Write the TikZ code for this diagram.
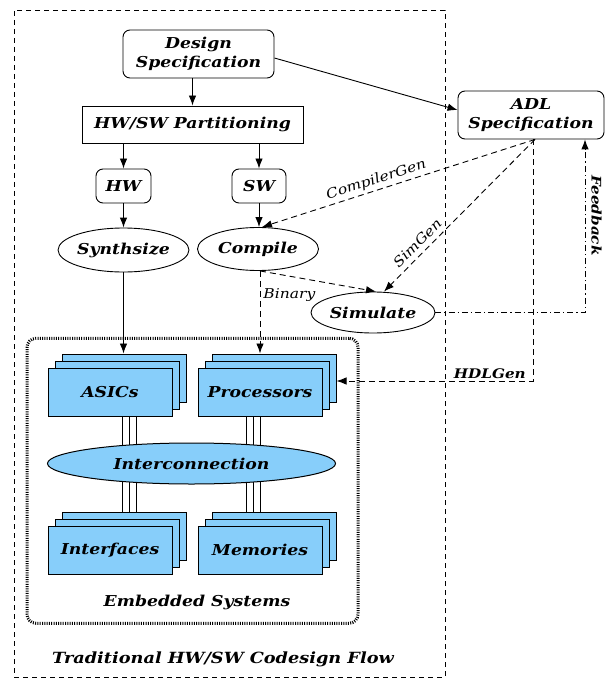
\documentclass[tikz,border=0pt]{standalone}
\usepackage{fontspec}
\setmainfont[FakeStretch=1.15]{DejaVu Serif}
\usetikzlibrary{arrows.meta,shapes.geometric}
\definecolor{boxblue}{RGB}{135,206,250}
\pgfdeclarelayer{bg}
\pgfsetlayers{bg,main}
\tikzset{
  base/.style={font=\bfseries\itshape\fontsize{15}{19}\selectfont, line width=0.9pt, inner sep=0pt},
  rbox/.style={base, draw, rounded corners=7pt, align=center},
  sbox/.style={base, draw},
  oval/.style={base, draw, ellipse},
  chip/.style={base, draw, fill=boxblue, minimum width=124pt, minimum height=48pt, line width=1pt},
  arr/.style={line width=0.9pt, -{Latex[length=10pt,width=7.5pt]}},
  darr/.style={arr, dash pattern=on 6pt off 4pt},
  fbarr/.style={arr, dash pattern=on 6pt off 3pt on 1.2pt off 3pt},
  lab/.style={font=\itshape\fontsize{13.5}{15}\selectfont, inner sep=3pt},
  blab/.style={font=\bfseries\itshape\fontsize{13.2}{15}\selectfont, inner sep=2pt},
  embox/.style={draw, rounded corners=9pt, line width=3pt, dash pattern=on 1pt off 1.3pt},
  outer/.style={draw, line width=0.7pt, dash pattern=on 5pt off 4pt}
}
\begin{document}
\begin{tikzpicture}[x=1pt,y=-1pt]
\useasboundingbox (0,0) rectangle (605,679);
% frames
\node[outer, minimum width=431pt, minimum height=667pt] (frame) at (229.5,343.5) {};
\node[embox, minimum width=331pt, minimum height=285pt] (emb) at (192.5,480.8) {};
\node[base] (embl) at (197,602) {Embedded Systems};
\node[base, font=\bfseries\itshape\fontsize{15.4}{18}\selectfont] (title) at (223,659) {Traditional HW/SW Codesign Flow};
% top flow
\node[rbox, minimum width=151pt, minimum height=48pt] (ds) at (198.5,54) {Design\\Specification};
\node[sbox, minimum width=221pt, minimum height=37pt] (part) at (192.5,124.5) {HW/SW Partitioning};
\node[rbox, minimum width=55pt, minimum height=34pt] (hw) at (123.5,186) {HW};
\node[rbox, minimum width=54pt, minimum height=34pt] (sw) at (259,186) {SW};
\node[oval, minimum width=122pt, minimum height=44pt] (syn) at (123.5,250) {Synthsize};
\node[oval, minimum width=121pt, minimum height=43pt] (comp) at (258,249) {Compile};
\node[oval, minimum width=124pt, minimum height=41pt] (sim) at (373,312.5) {Simulate};
\node[rbox, minimum width=146pt, minimum height=48pt] (adl) at (531,115) {ADL\\Specification};
% chip stacks
\node[chip] (a3) at (124,378) {};
\node[chip] (a2) at (117,385) {};
\node[chip] (a1) at (110,392) {ASICs};
\node[chip] (p3) at (274,378) {};
\node[chip] (p2) at (267,385) {};
\node[chip] (p1) at (260,392) {Processors};
\node[chip] (i3) at (124,536) {};
\node[chip] (i2) at (117,543) {};
\node[chip] (i1) at (110,550) {Interfaces};
\node[chip] (m3) at (274,536) {};
\node[chip] (m2) at (267,543) {};
\node[chip] (m1) at (260,550) {Memories};
\node[base, draw, fill=boxblue, ellipse, line width=1pt, minimum width=288pt, minimum height=41pt] (ic) at (191.5,463.5) {Interconnection};
% bus lines
\begin{pgfonlayer}{bg}
\foreach \dx in {12.3,19.3,26.7} {
  \draw[line width=0.8pt] ([xshift=\dx pt]a1.center) -- ([xshift=\dx pt]i1.center);
}
\foreach \dx in {-13.3,-6.7,0} {
  \draw[line width=0.8pt] ([xshift=\dx pt]p1.center) -- ([xshift=\dx pt]m1.center);
}
\end{pgfonlayer}
% arrows
\draw[arr] (ds.south -| part.north) -- (part.north);
\draw[arr] (part.south -| hw.north) -- (hw.north);
\draw[arr] (part.south -| sw.north) -- (sw.north);
\draw[arr] (hw.south) -- (syn.north);
\draw[arr] (sw.south) -- (sw.south |- comp.north);
\draw[arr] (syn.south) -- (syn.south |- a3.north);
\draw[darr] ([xshift=2pt]comp.south) -- ([xshift=2pt]comp.south |- p3.north) node[lab, pos=0.29, right] {Binary};
\draw[darr] ([xshift=2pt]comp.south) -- ([xshift=3pt]sim.north);
\draw[arr] ([yshift=-4pt]ds.east) -- ([yshift=5pt]adl.west);
\draw[darr] ([xshift=4pt]adl.south) -- ([xshift=4pt]comp.north) node[lab, pos=0.57, sloped, above] {CompilerGen};
\draw[darr] ([xshift=4pt]adl.south) -- ([xshift=11pt]sim.north) node[lab, pos=0.73, sloped, above, inner sep=5pt] {SimGen};
\draw[darr] ([xshift=2pt]adl.south) |- ([yshift=-3pt]p3.east) node[blab, pos=0.61, above] {HDLGen};
\draw[fbarr] (sim.east) -| ([xshift=54pt]adl.south) node[blab, pos=0.78, rotate=-90, anchor=south, inner sep=6pt] {Feedback};
\end{tikzpicture}
\end{document}
